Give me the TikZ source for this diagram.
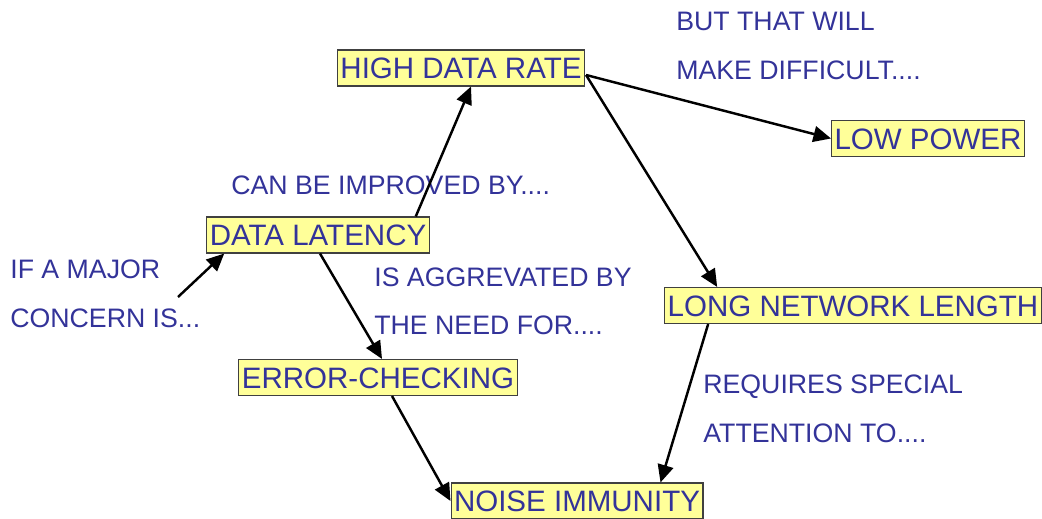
\documentclass[tikz,border=0pt]{standalone}
\usepackage{fontspec}
\setmainfont{Liberation Sans}
\usetikzlibrary{positioning,arrows.meta,calc}
\definecolor{labelblue}{RGB}{51,51,153}
\definecolor{boxyellow}{RGB}{255,255,153}

\begin{document}
\begin{tikzpicture}[x=0.02cm, y=-0.02cm,
  topic/.style={draw=black!75, line width=0.6pt, fill=boxyellow, text=labelblue,
    font=\fontsize{16.8}{18}\selectfont, inner xsep=1.7pt, inner ysep=0pt,
    text height=12pt, text depth=0pt, minimum height=20.5pt},
  note/.style={text=labelblue, font=\fontsize{15.2}{17}\selectfont, anchor=west,
    inner sep=0pt, text height=10.8pt, text depth=0pt},
  link/.style={-{Triangle[length=10pt, width=9pt]}, line width=1.4pt},
]
  \useasboundingbox (0,0) rectangle (1042,519);

  % topics
  \node[topic] (rate)    at (461,68)    {HIGH DATA RATE};
  \node[topic] (power)   at (928,138.5) {LOW POWER};
  \node[topic] (latency) at (318,235)   {DATA LATENCY};
  \node[topic] (length)  at (853,305.5) {LONG NETWORK LENGTH};
  \node[topic] (errchk)  at (378,377.5) {ERROR-CHECKING};
  \node[topic] (noise)   at (577,501)   {NOISE IMMUNITY};

  % remarks
  \node[note] (will)     at (676,21)  {BUT THAT WILL};
  \node[note] (difficult) at (676,70) {MAKE DIFFICULT....};
  \node[note] (improved) at (231,185) {CAN BE IMPROVED BY....};
  \node[note] (major)    at (10,269)  {IF A MAJOR};
  \node[note] (concern)  at (10,318)  {CONCERN IS...};
  \node[note] (aggr)     at (374,277) {IS AGGREVATED BY};
  \node[note] (need)     at (374,325) {THE NEED FOR....};
  \node[note] (special)  at (703,384) {REQUIRES SPECIAL};
  \node[note] (attn)     at (703,433) {ATTENTION TO....};

  \coordinate (start) at (178,297);

  \draw[link] (start) -- ($(latency.south west)+(18,0)$);
  \draw[link] ($(latency.north east)+(-14,0)$) -- ($(rate.south)+(10,0)$);
  \draw[link] ($(rate.east)+(1,7)$) -- (power.west);
  \draw[link] ($(rate.east)+(1,7)$) -- ($(length.north west)+(53,0)$);
  \draw[link] ($(latency.south)+(2,0)$) -- ($(errchk.north)+(4,0)$);
  \draw[link] ($(errchk.south)+(14,0)$) -- (noise.west);
  \draw[link] ($(length.south west)+(44,0)$) -- ($(noise.north east)+(-43,0)$);
\end{tikzpicture}
\end{document}
